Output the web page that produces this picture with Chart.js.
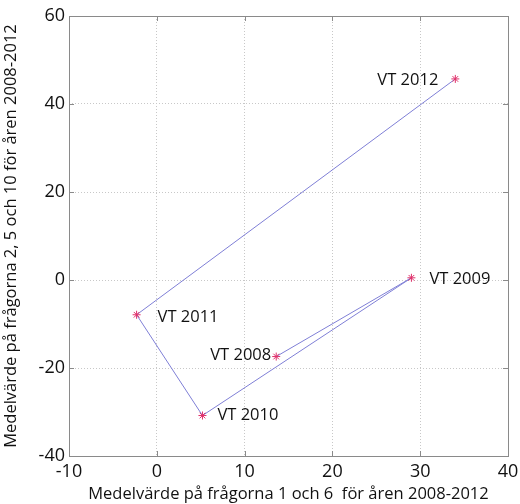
<!DOCTYPE html>
<html>
<head>
<meta charset="utf-8">
<script src="https://cdn.jsdelivr.net/npm/chart.js@4/dist/chart.umd.min.js"></script>
<style>
  html, body { margin: 0; padding: 0; background: #fff; }
  #wrap { width: 520px; height: 504px; }
</style>
</head>
<body>
<div id="wrap"><canvas id="c" width="520" height="504"></canvas></div>
<script>
// values
const years = ['VT 2008', 'VT 2009', 'VT 2010', 'VT 2011', 'VT 2012'];
const xVals = [13.6, 29.0, 5.2, -2.3, 34.0];
const yVals = [-17.4, 0.5, -30.8, -7.9, 45.7];
const xTicks = [-10, 0, 10, 20, 30, 40];
const yTicks = [-40, -20, 0, 20, 40, 60];

// label placement (dx, dy, align) per point
const labelPos = [
  [-5, -1, 'right'],
  [18, 1, 'left'],
  [15, 0, 'left'],
  [21, 3, 'left'],
  [-17, 1, 'right']
];

const FONT = '"Open Sans", sans-serif';
const axisGray = '#8a8a8a';

const boxPlugin = {
  id: 'box',
  afterDraw(chart) {
    const { ctx, chartArea: a, scales } = chart;
    ctx.save();
    ctx.strokeStyle = axisGray;
    ctx.lineWidth = 1;
    ctx.strokeRect(a.left + 0.5, a.top + 0.5, a.right - a.left, a.bottom - a.top);
    ctx.beginPath();
    xTicks.forEach(v => {
      const px = Math.round(scales.x.getPixelForValue(v)) + 0.5;
      ctx.moveTo(px, a.bottom); ctx.lineTo(px, a.bottom - 5);
      ctx.moveTo(px, a.top); ctx.lineTo(px, a.top + 5);
    });
    yTicks.forEach(v => {
      const py = Math.round(scales.y.getPixelForValue(v)) + 0.5;
      ctx.moveTo(a.left, py); ctx.lineTo(a.left + 5, py);
      ctx.moveTo(a.right, py); ctx.lineTo(a.right - 5, py);
    });
    ctx.stroke();

    // point labels
    ctx.fillStyle = '#111';
    ctx.font = '16.5px ' + FONT;
    ctx.textBaseline = 'middle';
    years.forEach((t, i) => {
      const px = scales.x.getPixelForValue(xVals[i]);
      const py = scales.y.getPixelForValue(yVals[i]);
      const [dx, dy, al] = labelPos[i];
      ctx.textAlign = al;
      ctx.fillText(t, px + dx, py + dy);
    });
    ctx.restore();
  }
};

new Chart(document.getElementById('c'), {
  type: 'scatter',
  data: {
    datasets: [{
      data: xVals.map((x, i) => ({ x: x, y: yVals[i] })),
      showLine: true,
      borderColor: '#7f7fd6',
      borderWidth: 1,
      pointStyle: 'star',
      pointRadius: 4,
      pointBorderColor: '#e0306a',
      pointBorderWidth: 1,
      pointBackgroundColor: '#e0306a',
      tension: 0
    }]
  },
  options: {
    responsive: false,
    animation: false,
    layout: { padding: { left: 0, top: 16, right: 12, bottom: 0 } },
    plugins: { legend: { display: false }, tooltip: { enabled: false } },
    scales: {
      x: {
        type: 'linear',
        min: -10, max: 40,
        afterBuildTicks: s => { s.ticks = xTicks.map(v => ({ value: v })); },
        afterFit: s => { s.height = 48; s.paddingLeft = 0; s.paddingRight = 0; },
        grid: { color: '#c8c8c8', drawTicks: false },
        border: { display: false, dash: [1, 2] },
        ticks: { color: '#111', font: { family: FONT, size: 18 }, padding: 5, maxRotation: 0 },
        title: {
          display: true,
          text: 'Medelvärde på frågorna 1 och 6  för åren 2008-2012',
          color: '#111',
          font: { family: FONT, size: 16.5 },
          padding: { top: 0, bottom: 0 }
        }
      },
      y: {
        type: 'linear',
        min: -40, max: 60,
        afterBuildTicks: s => { s.ticks = yTicks.map(v => ({ value: v })); },
        afterFit: s => { s.width = 69; s.paddingTop = 0; s.paddingBottom = 0; },
        grid: { color: '#c8c8c8', drawTicks: false },
        border: { display: false, dash: [1, 2] },
        ticks: { color: '#111', font: { family: FONT, size: 18 }, padding: 4 },
        title: {
          display: true,
          text: 'Medelvärde på frågorna 2, 5 och 10 för åren 2008-2012',
          color: '#111',
          font: { family: FONT, size: 16.5 },
          padding: { top: 1, bottom: 0 }
        }
      }
    }
  },
  plugins: [boxPlugin]
});
</script>
</body>
</html>
